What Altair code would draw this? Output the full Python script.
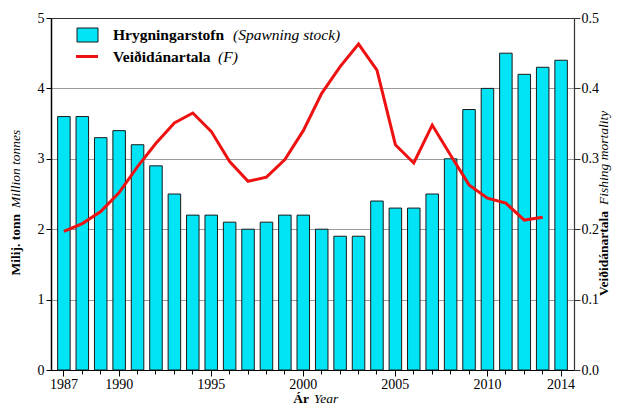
import altair as alt
import pandas as pd

years = list(range(1987, 2015))
stock = [3.6, 3.6, 3.3, 3.4, 3.2, 2.9, 2.5, 2.2, 2.2, 2.1, 2.0, 2.1, 2.2, 2.2,
         2.0, 1.9, 1.9, 2.4, 2.3, 2.3, 2.5, 3.0, 3.7, 4.0, 4.5, 4.2, 4.3, 4.4]
f_years = list(range(1987, 2014))
fishing = [0.197, 0.208, 0.225, 0.252, 0.289, 0.322, 0.351, 0.365, 0.339, 0.296,
           0.268, 0.274, 0.299, 0.340, 0.393, 0.431, 0.463, 0.426, 0.320, 0.294,
           0.348, 0.305, 0.263, 0.244, 0.237, 0.213, 0.217]
label_years = [1987, 1990, 1995, 2000, 2005, 2010, 2014]
left_ticks = [0, 1, 2, 3, 4, 5]
right_ticks = [0.0, 0.1, 0.2, 0.3, 0.4, 0.5]

legend_bold = ["Hrygningarstofn", "Veiðidánartala"]
legend_ital = ["(Spawning stock)", "(F)"]
ytitle_left = ["Milij. tonn", "Million tonnes"]
ytitle_right = ["Veiðidánartala", "Fishing mortality"]
xtitle = ["Ár", "Year"]

FONT = "Liberation Serif"
BAR = "#00E4F6"
RED = "#EE1111"

df_bar = pd.DataFrame({"year": years, "stock": stock})
df_line = pd.DataFrame({"year": f_years, "F": fishing})

xscale = alt.Scale(domain=years, paddingInner=0.32, paddingOuter=0.36)
label_test = "indexof([" + ",".join(str(y) for y in label_years) + "], +datum.value) >= 0"
label_expr = label_test + " ? datum.label : ''"

xaxis = alt.Axis(title=None, labelAngle=0, labelExpr=label_expr,
                 tickSize={"condition": {"test": label_test, "value": 6}, "value": 4},
                 labelFontSize=14, labelColor="black", domainColor="black",
                 tickColor="black", labelPadding=1, grid=False, labelFont=FONT)

bars = alt.Chart(df_bar).mark_bar(fill=BAR, stroke="#1a1a1a", strokeWidth=1).encode(
    x=alt.X("year:O", scale=xscale, axis=xaxis),
    y=alt.Y("stock:Q", scale=alt.Scale(domain=[0, 5], nice=False),
            axis=alt.Axis(title=None, values=left_ticks, format="d", orient="left",
                          labelFontSize=14, labelColor="black", domainColor="black",
                          domainWidth=1.5, tickColor="black", tickSize=5,
                          grid=True,
                          gridColor={"condition": {"test": "datum.value == 5", "value": "#333333"},
                                     "value": "#999999"},
                          gridWidth=1, labelFont=FONT, labelPadding=2)),
)

line = alt.Chart(df_line).mark_line(color=RED, strokeWidth=3).encode(
    x=alt.X("year:O", scale=xscale, axis=xaxis),
    y=alt.Y("F:Q", scale=alt.Scale(domain=[0, 0.5], nice=False),
            axis=alt.Axis(title=None, values=right_ticks, format=".1f", orient="right",
                          labelFontSize=14, labelColor="black", domainColor="#333333",
                          domainWidth=1.2, tickColor="#333333", tickSize=6,
                          grid=False, labelFont=FONT, labelPadding=1)),
)


def txt(s, x, y, weight="normal", style="normal", size=13.5, align="left", angle=0,
        baseline="middle"):
    kw = dict(font=FONT, fontSize=size, fontWeight=weight, fontStyle=style,
              align=align, baseline=baseline, color="black")
    if angle:
        kw["angle"] = angle
    return alt.Chart(pd.DataFrame({"t": [s]})).mark_text(**kw).encode(
        x=alt.value(x), y=alt.value(y), text="t:N")


leg_rect = alt.Chart(pd.DataFrame({"t": [legend_bold[0]]})).mark_rect(
    fill=BAR, stroke="#1a1a1a", strokeWidth=1).encode(
    x=alt.value(26), x2=alt.value(47), y=alt.value(10), y2=alt.value(24))
leg_line = alt.Chart(pd.DataFrame({"t": [legend_bold[1]]})).mark_rule(
    color=RED, strokeWidth=3).encode(
    x=alt.value(25), x2=alt.value(47), y=alt.value(38.5))

texts = [
    txt(legend_bold[0], 62, 17, weight="bold", size=15.5),
    txt(legend_ital[0], 182, 17, style="italic", size=15.5),
    txt(legend_bold[1], 62, 39, weight="bold", size=15.5),
    txt(legend_ital[1], 167, 39, style="italic", size=15.5),
    # left axis title (rotated)
    txt(ytitle_left[0], -35, 196, weight="bold", align="right", angle=270),
    txt(ytitle_left[1], -35, 190, style="italic", align="left", angle=270),
    # right axis title
    txt(ytitle_right[0], 553, 193, weight="bold", align="right", angle=270),
    txt(ytitle_right[1], 553, 187, style="italic", align="left", angle=270),
    # x axis title
    txt(xtitle[0], 258, 385, weight="bold", align="right", baseline="alphabetic"),
    txt(xtitle[1], 263, 385, style="italic", align="left", baseline="alphabetic"),
]

chart = alt.layer(bars, line, leg_rect, leg_line, *texts).resolve_scale(
    y="independent"
).properties(
    width=523, height=352,
    autosize=alt.AutoSizeParams(type="none"),
    padding={"left": 43, "top": 10, "right": 39, "bottom": 36},
).configure_view(stroke=None)

chart.save("out.html", embed_options={"renderer": "svg", "actions": False})
